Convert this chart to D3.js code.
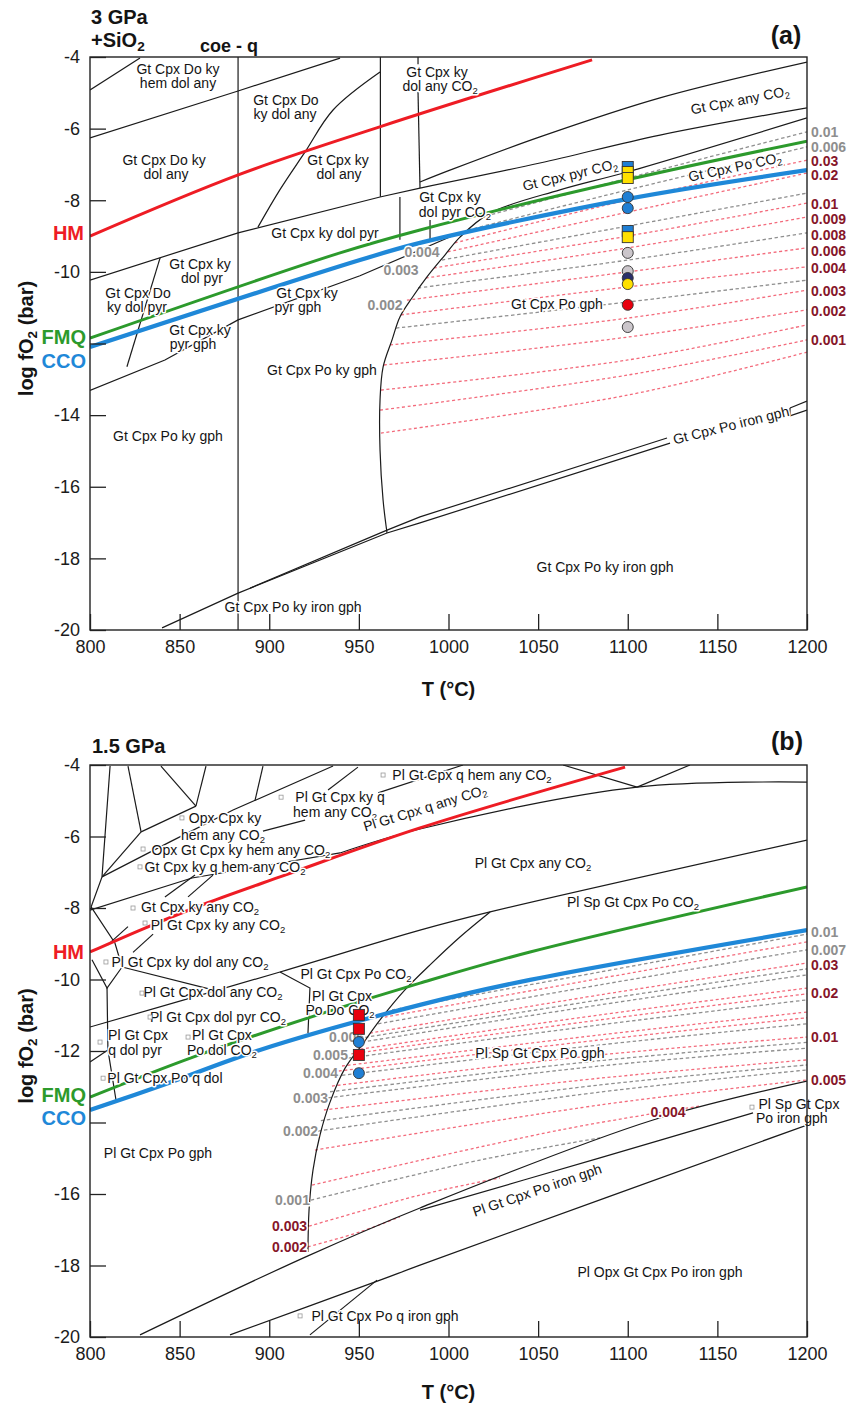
<!DOCTYPE html>
<html lang="en">
<head>
<meta charset="UTF-8">
<title>log fO2 - T sections, 3 GPa and 1.5 GPa</title>
<script src="https://d3js.org/d3.v7.min.js"></script>
<style>
  body { margin: 0; background: #fff; font-family: "Liberation Sans", Arial, Helvetica, sans-serif; }
  .frame { fill: none; stroke: #222; stroke-width: 1.4px; }
  .bnd { fill: none; stroke: #1b1b1b; stroke-width: 1.2px; }
  .axis path { display: none; }
  .axis line { stroke: #222; stroke-width: 1.3px; }
  .axis text { font-size: 18px; fill: #1b1b1b; font-family: "Liberation Sans", Arial, sans-serif; }
  .field { paint-order: stroke; stroke: #fff; stroke-width: 3px; stroke-linejoin: round; }
</style>
</head>
<body>
<script>
// ---------- shared ticks ----------
const tempTicks = [800, 850, 900, 950, 1000, 1050, 1100, 1150, 1200];
const fo2Ticks = [-4, -6, -8, -10, -12, -14, -16, -18, -20];

// ---------- panel (a) 3 GPa + SiO2 ----------
const hmA  = [[800,-9.00],[882.7,-7.29],[962.9,-5.93],[1080.1,-4.08]];
const fmqA = [[800,-11.85],[939.5,-9.47],[984.1,-8.83],[1099.6,-7.43],[1200,-6.35]];
const ccoA = [[800,-12.10],[950.6,-9.67],[984.1,-9.19],[1100.1,-7.96],[1200,-7.16]];

// straight phase boundaries
const segsA = [
  [[800,-4.92],[827.9,-4.03]],
  [[800,-6.26],[882.6,-4.95],[939.5,-4.03]],
  [[882.6,-4],[882.6,-20]],
  [[962.0,-4],[962.0,-7.9]],
  [[800,-10.23],[882.6,-8.91],[961.8,-7.91],[984.1,-7.66]],
  [[983.0,-4],[983.0,-4.2]],
  [[983.0,-4.98],[984.1,-7.66]],
  [[800,-13.31],[841.8,-12.46],[882.6,-11.34],[950.6,-10.11],[1002,-9.0]],
  [[839.1,-9.61],[820.6,-12.65]],
  [[972.9,-7.91],[972.9,-9.1]],
  [[989.7,-8.55],[989.7,-9.11]],
  [[840.2,-19.94],[882.6,-18.97],[965.7,-17.29],[984.1,-17.01],[1123.6,-14.78]],
  [[889.3,-18.83],[965.7,-17.21],[984.1,-16.84],[1121.9,-14.64]],
  [[1190.5,-13.80],[1200,-13.61]],
  [[1190.5,-14.02],[1200,-13.86]],
  [[1190.5,-13.80],[1190.5,-14.02]]
];
// curved phase boundaries
const curvesA = [
  [[893.7,-8.75],[905.9,-7.71],[920.0,-6.65],[935.6,-5.48],[961.8,-4.42]],
  [[984.1,-7.49],[1000.8,-7.16],[1051.0,-6.23],[1118.0,-5.14],[1200,-4.14]],
  [[984.1,-7.66],[1051.0,-6.96],[1118.0,-6.18],[1200,-5.42]],
  [[965.7,-17.29],[963.5,-16.37],[961.8,-14.97],[961.8,-13.58],[963.5,-12.66],[968.5,-11.90],
   [972.9,-11.26],[979.6,-10.73],[988.0,-10.14],[998.0,-9.53],[1006.4,-9.03],[1023.2,-8.36],
   [1062.2,-7.71],[1099.6,-7.21],[1200,-5.70]]
];

// dashed isopleths: [family, points]
const isoA = [
  ["g", [[1020.9,-8.44],[1100.1,-7.38],[1200,-6.09]]],
  ["g", [[1010.9,-8.83],[1100.1,-7.71],[1200,-6.51]]],
  ["r", [[1003.6,-9.19],[1100.1,-7.99],[1200,-6.88]]],
  ["r", [[999.7,-9.44],[1100.1,-8.33],[1200,-7.24]]],
  ["g", [[996.4,-9.67],[1100.1,-8.72],[1200,-7.80]]],
  ["r", [[991.9,-9.89],[1100.1,-9.00],[1200,-8.08]]],
  ["r", [[987.4,-10.17],[1100.1,-9.33],[1200,-8.47]]],
  ["g", [[983.0,-10.45],[1100.1,-9.67],[1200,-8.91]]],
  ["r", [[976.8,-10.79],[1100.1,-10.00],[1200,-9.33]]],
  ["r", [[973.5,-11.20],[1100.1,-10.42],[1200,-9.86]]],
  ["g", [[970.7,-11.57],[1100.1,-10.84],[1200,-10.23]]],
  ["r", [[967.4,-12.04],[1100.1,-11.29],[1200,-10.51]]],
  ["r", [[964.0,-12.60],[1100.1,-11.82],[1200,-11.06]]],
  ["r", [[962.3,-13.30],[1100.1,-12.46],[1200,-11.48]]],
  ["r", [[961.8,-13.86],[1100.1,-12.88],[1200,-11.90]]],
  ["r", [[962.3,-14.50],[1100.1,-13.44],[1200,-12.24]]]
];

// isopleth labels: [text, T, logfO2, family, anchor]
const isoLabA = [
  ["0.01",1200,-6.09,"g","right"], ["0.006",1200,-6.51,"g","right"],
  ["0.03",1200,-6.90,"r","right"], ["0.02",1200,-7.29,"r","right"],
  ["0.01",1200,-8.10,"r","right"], ["0.009",1200,-8.52,"r","right"],
  ["0.008",1200,-8.97,"r","right"], ["0.006",1200,-9.42,"r","right"],
  ["0.004",1200,-9.89,"r","right"], ["0.003",1200,-10.53,"r","right"],
  ["0.002",1200,-11.09,"r","right"], ["0.001",1200,-11.90,"r","right"],
  ["0.004",985.2,-9.44,"g","middle"], ["0.003",973.5,-9.95,"g","middle"],
  ["0.002",964.6,-10.92,"g","middle"]
];

// field labels: [text, T, logfO2, angle]
const fieldsA = [
  ["Gt Cpx Do ky",849.1,-4.34,0], ["hem dol any",849.1,-4.73,0],
  ["Gt Cpx Do ky",841.3,-6.89,0], ["dol any",842.4,-7.28,0],
  ["Gt Cpx Do",909.3,-5.20,0], ["ky dol any",908.8,-5.59,0],
  ["Gt Cpx ky",938.4,-6.88,0], ["dol any",938.9,-7.27,0],
  ["Gt Cpx ky",993.6,-4.41,0], ["dol any CO_2",995.3,-4.80,0],
  ["Gt Cpx ky dol pyr",931.1,-8.91,0],
  ["Gt Cpx ky",861.4,-9.79,0], ["dol pyr",862.5,-10.18,0],
  ["Gt Cpx Do",826.8,-10.59,0], ["ky dol pyr",826.2,-10.98,0],
  ["Gt Cpx ky",921.1,-10.58,0], ["pyr gph",916.0,-10.97,0],
  ["Gt Cpx ky",861.4,-11.63,0], ["pyr gph",857.5,-12.02,0],
  ["Gt Cpx ky",1000.8,-7.91,0], ["dol pyr CO_2",1003.6,-8.33,0],
  ["Gt Cpx pyr CO_2",1067.8,-7.29,-13.5],
  ["Gt Cpx Po CO_2",1159.8,-7.07,-12],
  ["Gt Cpx any CO_2",1162.6,-5.20,-11],
  ["Gt Cpx Po gph",1060.5,-10.90,0],
  ["Gt Cpx Po ky gph",929.4,-12.74,0],
  ["Gt Cpx Po ky gph",843.5,-14.58,0],
  ["Gt Cpx Po iron gph",1157.6,-14.28,-14],
  ["Gt Cpx Po ky iron gph",1087.3,-18.24,0],
  ["Gt Cpx Po ky iron gph",913.3,-19.36,0]
];

// experiment symbols: [T, logfO2, shape, fill]
const markersA = [
  [1100,-7.07,"sq","#1f7fd4"], [1100,-7.21,"sq","#ffe000"], [1100,-7.38,"sq","#ffe000"],
  [1100,-7.91,"ci","#1f7fd4"], [1100,-8.22,"ci","#1f7fd4"],
  [1100,-8.86,"sq","#1f7fd4"], [1100,-9.03,"sq","#ffe000"],
  [1100,-9.47,"ci","#cbc6cb"], [1100,-9.98,"ci","#cbc6cb"],
  [1100,-10.17,"ci","#2a2f6a"], [1100,-10.34,"ci","#ffe000"],
  [1100,-10.92,"ci","#e8000e"], [1100,-11.54,"ci","#cbc6cb"]
];

// ---------- panel (b) 1.5 GPa ----------
const hmB  = [[800,-9.23],[830.7,-8.56],[865.3,-7.86],[908.8,-7.08],[984.1,-5.76],[1098.5,-4.06]];
const fmqB = [[800,-13.29],[857.5,-12.17],[930.0,-10.94],[984.1,-10.10],[1045.5,-9.23],[1200,-7.41]];
const ccoB = [[800,-13.65],[840.7,-12.95],[894.8,-11.97],[984.1,-10.71],[1045.5,-10.01],[1200,-8.62]];

const segsB = [
  [[811.2,-4.03],[806.7,-7.13],[800.6,-7.97]],
  [[821.2,-4.03],[828.5,-5.87]],
  [[839.6,-4.03],[859.1,-5.15]],
  [[864.7,-4.03],[859.1,-5.15]],
  [[828.5,-5.87],[859.1,-5.15]],
  [[828.5,-5.87],[806.7,-7.13]],
  [[806.7,-7.13],[844.6,-6.15],[879.8,-5.26],[935.6,-4.03]],
  [[896.5,-4.03],[892.1,-4.98]],
  [[896.5,-5.85],[920.0,-5.54]],
  [[800,-8.06],[856.9,-7.16],[939.5,-6.46]],
  [[841.8,-7.69],[858.6,-7.08]],
  [[854.7,-7.69],[868.6,-7.08]],
  [[824.0,-9.24],[835.2,-8.73]],
  [[809.9,-9.03],[821.2,-8.52]],
  [[960.7,-4.78],[1008.1,-4.0]],
  [[932.8,-4.70],[949.5,-4.06]],
  [[800.6,-7.97],[813.9,-8.98],[817.9,-9.65]],
  [[801.1,-9.45],[809.5,-10.24],[817.9,-9.65]],
  [[817.9,-9.65],[868.6,-10.29]],
  [[809.5,-10.24],[810.0,-11.97],[814.5,-13.37]],
  [[810.0,-11.97],[800,-12.31]],
  [[906.0,-9.79],[922.7,-10.24],[921.6,-11.50]],
  [[1063.9,-4.0],[1105.2,-4.62]],
  [[1105.2,-4.62],[1134.7,-4.0]],
  [[922.7,-19.94],[960.1,-18.41]]
];
const curvesB = [
  [[800,-11.33],[906.0,-9.79],[984.1,-8.62],[1023.2,-8.11],[1200,-6.10]],
  [[939.5,-6.46],[984.1,-5.79],[1105.2,-4.62],[1200,-4.48]],
  [[921.6,-17.62],[922.2,-16.45],[924.4,-15.33],[928.3,-14.35],[933.9,-13.43],[942.3,-12.48],
   [951.7,-11.83],[961.8,-11.13],[975.7,-10.29],[989.7,-9.59],[1006.4,-8.81],[1023.2,-8.11]],
  [[827.9,-19.94],[921.6,-17.73],[984.1,-16.39],[1114.1,-13.93],[1200,-12.84]],
  [[984.1,-16.45],[1084.5,-14.99],[1169.9,-13.73]],
  [[878.1,-19.94],[961.8,-18.41],[984.1,-17.99],[1200,-14.07]]
];

const isoB = [
  ["g", [[968.5,-10.85],[1084.5,-9.79],[1200,-8.73]]],
  ["r", [[964.5,-11.05],[1084.5,-9.97],[1200,-8.95]]],
  ["g", [[960.7,-11.24],[1084.5,-10.15],[1200,-9.17]]],
  ["r", [[956.2,-11.50],[1084.5,-10.43],[1200,-9.54]]],
  ["g", [[953.5,-11.62],[1084.5,-10.57],[1200,-9.70]]],
  ["g", [[951.7,-11.75],[1084.5,-10.71],[1200,-9.87]]],
  ["r", [[947.8,-11.97],[1084.5,-10.99],[1200,-10.24]]],
  ["r", [[945.8,-12.08],[1084.5,-11.13],[1200,-10.40]]],
  ["g", [[943.9,-12.20],[1084.5,-11.27],[1200,-10.57]]],
  ["r", [[940.6,-12.42],[1084.5,-11.55],[1200,-10.91]]],
  ["r", [[938.8,-12.56],[1084.5,-11.69],[1200,-11.07]]],
  ["g", [[937.2,-12.70],[1084.5,-11.83],[1200,-11.24]]],
  ["r", [[935.0,-12.98],[1084.5,-12.11],[1200,-11.61]]],
  ["g", [[933.9,-13.14],[1084.5,-12.27],[1200,-11.76]]],
  ["g", [[932.8,-13.31],[1084.5,-12.42],[1200,-11.92]]],
  ["r", [[930.5,-13.65],[1084.5,-12.76],[1200,-12.25]]],
  ["g", [[928.8,-13.95],[1084.5,-12.95],[1200,-12.39]]],
  ["g", [[927.2,-14.24],[1084.5,-13.15],[1200,-12.53]]],
  ["r", [[925.5,-14.77],[1084.5,-13.51],[1200,-12.81]]],
  ["r", [[923.9,-15.75],[1062.2,-14.21],[1140.3,-13.54]]],
  ["g", [[923.3,-16.17],[1017.6,-15.05],[1084.5,-14.43]]],
  ["r", [[922.2,-16.90],[984.1,-16.03],[1028.7,-15.55]]],
  ["r", [[921.6,-17.48],[950.6,-17.06],[972.9,-16.64]]]
];

const isoLabB = [
  ["0.01",1200,-8.67,"g","right"], ["0.007",1200,-9.17,"g","right"],
  ["0.03",1200,-9.59,"r","right"], ["0.02",1200,-10.38,"r","right"],
  ["0.01",1200,-11.61,"r","right"], ["0.005",1200,-12.81,"r","right"],
  ["0.004",1122.5,-13.71,"r","middle"],
  ["0.006",952.9,-11.61,"g","end"], ["0.005",943.9,-12.11,"g","end"],
  ["0.004",938.4,-12.62,"g","end"], ["0.003",932.8,-13.31,"g","end"],
  ["0.002",927.2,-14.24,"g","end"], ["0.001",922.7,-16.17,"g","end"],
  ["0.003",921.1,-16.90,"r","end"], ["0.002",921.1,-17.48,"r","end"]
];

const fieldsB = [
  ["Pl Gt Cpx q hem any CO_2",1013.1,-4.28,0],
  ["Pl Gt Cpx ky q",939.5,-4.90,0], ["hem any CO_2",936.7,-5.31,0],
  ["Opx Cpx ky",875.3,-5.48,0], ["hem any CO_2",874.2,-5.96,0],
  ["Opx Gt Cpx ky hem any CO_2",884.2,-6.38,0],
  ["Gt Cpx ky q hem any CO_2",875.3,-6.85,0],
  ["Gt Cpx ky any CO_2",861.4,-7.97,0],
  ["Pl Gt Cpx ky any CO_2",871.4,-8.48,0],
  ["Pl Gt Cpx ky dol any CO_2",855.8,-9.51,0],
  ["Pl Gt Cpx Po CO_2",948.4,-9.85,0],
  ["Pl Gt Cpx dol any CO_2",868.6,-10.35,0],
  ["Pl Gt Cpx",940.6,-10.47,0], ["Po Do CO_2",939.5,-10.86,0],
  ["Pl Gt Cpx dol pyr CO_2",871.4,-11.05,0],
  ["Pl Gt Cpx",826.8,-11.55,0], ["q dol pyr",825.1,-11.97,0],
  ["Pl Gt Cpx",873.6,-11.55,0], ["Po dol CO_2",873.6,-11.97,0],
  ["Pl Gt Cpx Po q dol",841.8,-12.76,0],
  ["Pl Gt Cpx Po gph",837.9,-14.85,0],
  ["Pl Gt Cpx any CO_2",1047.1,-6.74,0],
  ["Pl Gt Cpx q any CO_2",986.9,-5.20,-17],
  ["Pl Sp Gt Cpx Po CO_2",1102.9,-7.83,0],
  ["Pl Sp Gt Cpx Po gph",1051.0,-12.06,0],
  ["Pl Gt Cpx Po iron gph",1049.4,-15.89,-19],
  ["Pl Sp Gt Cpx",1195.5,-13.49,0], ["Po iron gph",1191.5,-13.88,0],
  ["Pl Opx Gt Cpx Po iron gph",1118.0,-18.18,0],
  ["Pl Gt Cpx Po q iron gph",964.6,-19.41,0]
];
// tiny field pointers next to labels: [T, logfO2]
const pointersB = [
  [963.5,-4.28],[906.6,-4.90],[851.3,-5.48],[829.6,-6.35],[827.9,-6.85],
  [824.0,-8.00],[830.7,-8.42],[808.9,-9.51],[829.0,-10.38],[833.5,-11.05],
  [805.6,-11.75],[854.7,-11.61],[807.3,-12.76],[1169.3,-13.57],[917.2,-19.41]
];

const markersB = [
  [950,-10.99,"sq","#e8000e"], [950,-11.38,"sq","#e8000e"],
  [950,-11.75,"ci","#1f7fd4"], [950,-12.11,"sq","#e8000e"],
  [950,-12.62,"ci","#1f7fd4"]
];

// ---------- drawing ----------
const W = 848, H = 1406;
const svg = d3.select("body").append("svg").attr("width", W).attr("height", H);
const x = d3.scaleLinear().domain([800, 1200]).range([90, 807]);

const RED = "#ee1c24", GREEN = "#2c9a2c", BLUE = "#1f88d8";
const PINK = "#f36b7c", GREY = "#8f8f8f", DARKRED = "#86162a", LABGREY = "#8e8e8e";

function addText(g, str, px, py, opts) {
  const size = opts.size || 14;
  const t = g.append("text")
    .attr("x", px).attr("y", py)
    .attr("class", opts.cls || null)
    .attr("text-anchor", opts.anchor || "middle")
    .attr("dominant-baseline", opts.baseline || "central")
    .style("font-size", size + "px")
    .style("fill", opts.fill || "#141414");
  if (opts.weight) t.style("font-weight", opts.weight);
  if (opts.angle) t.attr("transform", `rotate(${opts.angle},${px},${py})`);
  const parts = str.split("_2");
  const sh = Math.round(size * 0.28);
  parts.forEach((p, i) => {
    if (i > 0) {
      t.append("tspan").attr("dy", sh).style("font-size", (size * 0.68) + "px").text("2");
    }
    if (p) t.append("tspan").attr("dy", i > 0 ? -sh : null).text(p);
  });
  return t;
}

function drawPanel(top, bottom, d) {
  const y = d3.scaleLinear().domain([-20, -4]).range([bottom, top]);
  const g = svg.append("g");
  const clipId = "clip" + top;
  svg.append("clipPath").attr("id", clipId)
    .append("rect").attr("x", x(800)).attr("y", top)
    .attr("width", x(1200) - x(800)).attr("height", bottom - top);
  const plot = g.append("g").attr("clip-path", `url(#${clipId})`);

  const straight = d3.line().x(p => x(p[0])).y(p => y(p[1]));
  const smooth = d3.line().x(p => x(p[0])).y(p => y(p[1])).curve(d3.curveCatmullRom.alpha(0.5));

  // isopleths
  plot.selectAll(".iso").data(d.iso).join("path")
    .attr("class", "iso")
    .attr("d", s => smooth(s[1]))
    .attr("fill", "none")
    .attr("stroke", s => s[0] === "r" ? PINK : GREY)
    .attr("stroke-width", 1.3)
    .attr("stroke-dasharray", s => s[0] === "r" ? "3,2.6" : "3.5,2.6");

  // phase boundaries
  plot.selectAll(".seg").data(d.segs).join("path").attr("class", "bnd seg").attr("d", straight);
  plot.selectAll(".crv").data(d.curves).join("path").attr("class", "bnd crv").attr("d", smooth);

  // buffers
  [[d.hm, RED, 3], [d.fmq, GREEN, 3], [d.cco, BLUE, 4.2]].forEach(([pts, col, w]) => {
    plot.append("path").attr("d", smooth(pts)).attr("fill", "none")
      .attr("stroke", col).attr("stroke-width", w);
  });

  // field labels
  d.fields.forEach(f => {
    addText(g, f[0], x(f[1]), y(f[2]), { cls: "field", angle: f[3] });
  });
  (d.pointers || []).forEach(p => {
    g.append("rect").attr("x", x(p[0]) - 2).attr("y", y(p[1]) - 2)
      .attr("width", 4).attr("height", 4)
      .attr("fill", "#fff").attr("stroke", "#999").attr("stroke-width", 0.8);
  });

  // isopleth labels
  d.isoLab.forEach(l => {
    const right = l[4] === "right";
    addText(g, l[0], right ? x(l[1]) + 4 : x(l[1]), y(l[2]), {
      size: 14, anchor: right ? "start" : l[4], weight: "bold",
      fill: l[3] === "r" ? DARKRED : LABGREY,
      cls: right ? null : "field"
    });
  });

  // experiment symbols
  d.markers.forEach(m => {
    if (m[2] === "sq") {
      g.append("rect").attr("x", x(m[0]) - 5.5).attr("y", y(m[1]) - 5.5)
        .attr("width", 11).attr("height", 11)
        .attr("fill", m[3]).attr("stroke", "#333").attr("stroke-width", 0.9);
    } else {
      g.append("circle").attr("cx", x(m[0])).attr("cy", y(m[1])).attr("r", 5.5)
        .attr("fill", m[3]).attr("stroke", "#333").attr("stroke-width", 0.9);
    }
  });

  // frame and axes
  g.append("rect").attr("class", "frame")
    .attr("x", x(800)).attr("y", top)
    .attr("width", x(1200) - x(800)).attr("height", bottom - top);

  g.append("g").attr("class", "axis")
    .attr("transform", `translate(0,${bottom})`)
    .call(d3.axisBottom(x).tickValues(tempTicks).tickSizeInner(-16).tickSizeOuter(0)
      .tickPadding(10).tickFormat(v => String(v)));

  g.append("g").attr("class", "axis")
    .attr("transform", `translate(${x(800)},0)`)
    .call(d3.axisLeft(y).tickValues(fo2Ticks).tickSizeInner(-16).tickSizeOuter(0)
      .tickPadding(10).tickFormat(v => v === d.hideTick ? "" : String(v)));

  // buffer names on the left
  addText(g, "HM", 84, y(d.hm[0][1]) + d.labShift[0], { size: 20, anchor: "end", fill: RED, weight: "bold" });
  addText(g, "FMQ", 86, y(d.fmq[0][1]) + d.labShift[1], { size: 20, anchor: "end", fill: GREEN, weight: "bold" });
  addText(g, "CCO", 86, y(d.cco[0][1]) + d.labShift[2], { size: 20, anchor: "end", fill: BLUE, weight: "bold" });

  // axis titles
  addText(g, "log fO_2 (bar)", 26, (top + bottom) / 2 - 5, { size: 20, weight: "bold", angle: -90 });
  addText(g, "T (°C)", (x(800) + x(1200)) / 2, bottom + d.tGap, { size: 20, weight: "bold" });
  return y;
}

drawPanel(57, 630, {
  hm: hmA, fmq: fmqA, cco: ccoA, segs: segsA, curves: curvesA, iso: isoA,
  isoLab: isoLabA, fields: fieldsA, markers: markersA, hideTick: -12,
  labShift: [-3, -1, 14], tGap: 59
});
drawPanel(765, 1337, {
  hm: hmB, fmq: fmqB, cco: ccoB, segs: segsB, curves: curvesB, iso: isoB,
  isoLab: isoLabB, fields: fieldsB, markers: markersB, pointers: pointersB, hideTick: -14,
  labShift: [0, -2, 8], tGap: 55
});

// panel titles
addText(svg, "3 GPa", 91, 17, { size: 20, anchor: "start", weight: "bold" });
addText(svg, "+SiO_2", 91, 40, { size: 20, anchor: "start", weight: "bold" });
addText(svg, "coe - q", 229, 46, { size: 18, weight: "bold" });
addText(svg, "(a)", 786, 35, { size: 25, weight: "bold" });
addText(svg, "1.5 GPa", 92, 746, { size: 20, anchor: "start", weight: "bold" });
addText(svg, "(b)", 787, 741, { size: 25, weight: "bold" });
</script>
</body>
</html>
